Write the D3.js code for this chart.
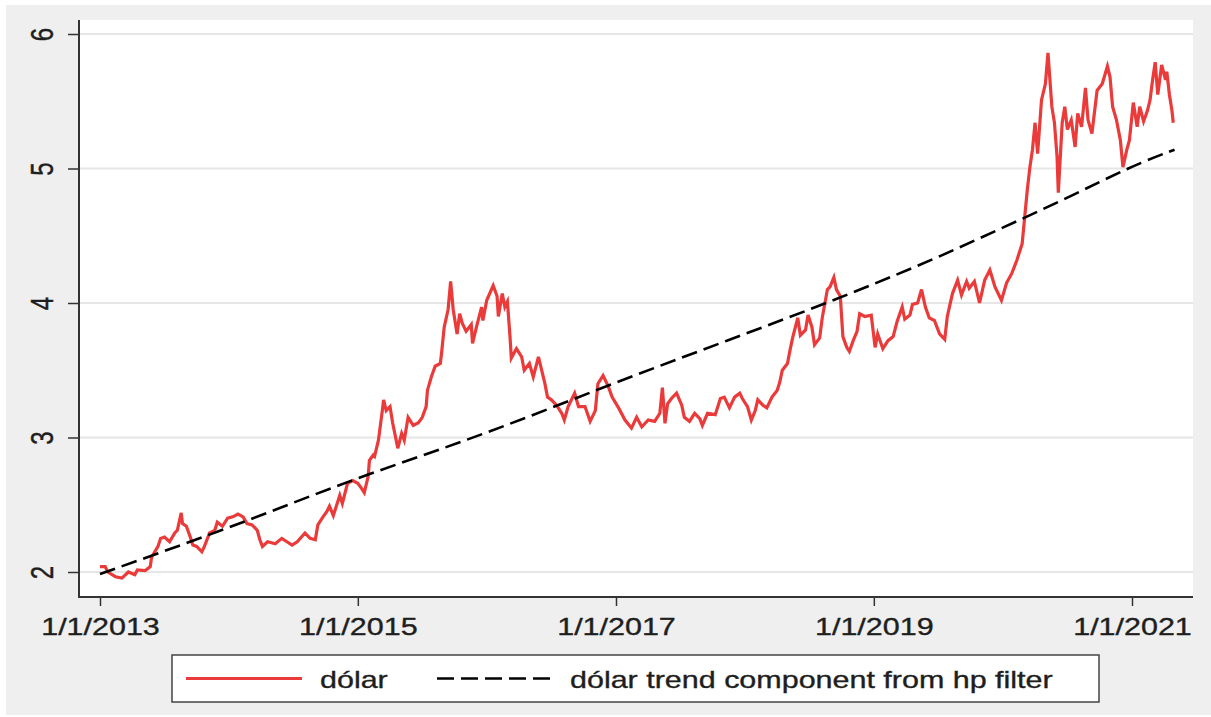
<!DOCTYPE html>
<html>
<head>
<meta charset="utf-8">
<script src="https://cdn.jsdelivr.net/npm/d3@7/dist/d3.min.js"></script>
<style>
  html, body { margin: 0; padding: 0; background: #fff; }
  svg { display: block; }
  text { font-family: "Liberation Sans", Arial, sans-serif; fill: #1e1e1e; stroke: #1e1e1e; stroke-width: 0.35px; }
</style>
</head>
<body>
<div id="chart"></div>
<script>
// dólar series, decimal year -> R$/US$
var dolarYear = [2013.00,2013.04,2013.06,2013.12,2013.17,2013.22,2013.27,2013.29,2013.35,2013.39,2013.40,2013.45,2013.47,2013.50,2013.54,2013.58,2013.60,2013.63,2013.64,2013.67,2013.70,2013.72,2013.75,2013.79,2013.81,2013.85,2013.89,2013.91,2013.95,2013.99,
  2014.03,2014.07,2014.11,2014.14,2014.18,2014.22,2014.24,2014.26,2014.30,2014.36,2014.41,2014.45,2014.49,2014.53,2014.59,2014.63,2014.67,2014.69,2014.73,2014.76,2014.78,2014.81,2014.84,2014.86,2014.88,2014.92,2014.96,
  2015.00,2015.03,2015.05,2015.08,2015.09,2015.12,2015.13,2015.16,2015.19,2015.20,2015.22,2015.25,2015.27,2015.31,2015.34,2015.36,2015.39,2015.43,2015.47,2015.50,2015.53,2015.54,2015.57,2015.60,2015.64,2015.65,2015.67,2015.70,2015.72,2015.74,2015.77,2015.79,2015.81,2015.84,2015.88,2015.89,2015.92,2015.96,2015.97,
  2016.00,2016.05,2016.08,2016.09,2016.12,2016.14,2016.16,2016.18,2016.19,2016.23,2016.27,2016.29,2016.33,2016.36,2016.40,2016.43,2016.45,2016.47,2016.50,2016.54,2016.58,2016.60,2016.63,2016.68,2016.71,2016.76,2016.80,2016.84,2016.86,2016.90,2016.94,2016.97,
  2017.02,2017.07,2017.12,2017.16,2017.20,2017.25,2017.30,2017.34,2017.36,2017.38,2017.40,2017.43,2017.47,2017.51,2017.53,2017.57,2017.61,2017.65,2017.67,2017.71,2017.77,2017.81,2017.84,2017.88,2017.92,2017.96,2017.98,
  2018.02,2018.05,2018.08,2018.10,2018.14,2018.17,2018.21,2018.25,2018.27,2018.29,2018.33,2018.35,2018.37,2018.41,2018.43,2018.47,2018.49,2018.52,2018.54,2018.58,2018.60,2018.64,2018.66,2018.69,2018.71,2018.74,2018.76,2018.79,2018.81,2018.84,2018.87,2018.89,2018.93,2018.98,
  2019.01,2019.03,2019.07,2019.11,2019.15,2019.18,2019.22,2019.24,2019.28,2019.30,2019.34,2019.37,2019.40,2019.43,2019.47,2019.51,2019.55,2019.57,2019.61,2019.65,2019.68,2019.72,2019.74,2019.78,2019.82,2019.86,2019.90,2019.94,2019.99,
  2020.03,2020.07,2020.11,2020.15,2020.17,2020.19,2020.21,2020.23,2020.25,2020.27,2020.30,2020.33,2020.35,2020.36,2020.38,2020.40,2020.42,2020.43,2020.46,2020.48,2020.50,2020.53,2020.56,2020.58,2020.61,2020.64,2020.66,2020.69,2020.73,2020.77,2020.81,2020.83,2020.85,2020.88,2020.91,2020.93,2020.96,2020.98,
  2021.01,2021.04,2021.06,2021.09,2021.12,2021.14,2021.16,2021.18,2021.20,2021.23,2021.26,2021.27,2021.29,2021.31,2021.32]
var dolarValue = [2.04,2.04,2.00,1.965,1.955,2.00,1.98,2.015,2.01,2.04,2.11,2.19,2.25,2.26,2.225,2.29,2.31,2.44,2.36,2.34,2.26,2.20,2.19,2.15,2.19,2.29,2.31,2.37,2.34,2.40,
  2.41,2.43,2.41,2.36,2.35,2.31,2.24,2.19,2.225,2.21,2.25,2.225,2.20,2.225,2.29,2.25,2.24,2.35,2.41,2.45,2.49,2.42,2.51,2.57,2.51,2.66,2.68,
  2.66,2.62,2.59,2.71,2.83,2.87,2.86,2.98,3.20,3.28,3.20,3.23,3.11,2.92,3.03,2.98,3.15,3.09,3.11,3.15,3.23,3.35,3.45,3.53,3.55,3.63,3.82,3.95,4.16,3.95,3.77,3.92,3.85,3.79,3.84,3.70,3.82,3.97,3.87,
  4.02,4.13,4.05,3.90,4.07,3.97,4.01,3.75,3.59,3.66,3.60,3.50,3.55,3.45,3.60,3.48,3.40,3.30,3.28,3.24,3.18,3.13,3.23,3.33,3.23,3.23,3.12,3.20,3.40,3.46,3.38,3.30,
  3.22,3.13,3.07,3.15,3.08,3.13,3.12,3.18,3.37,3.105,3.25,3.29,3.33,3.24,3.15,3.12,3.18,3.14,3.09,3.18,3.17,3.29,3.30,3.22,3.30,3.33,3.29,
  3.23,3.13,3.20,3.28,3.24,3.22,3.30,3.35,3.41,3.50,3.55,3.65,3.74,3.89,3.76,3.80,3.91,3.82,3.69,3.74,3.89,4.10,4.12,4.19,4.10,4.05,3.75,3.67,3.64,3.72,3.79,3.92,3.90,3.91,
  3.67,3.77,3.66,3.72,3.75,3.86,3.97,3.88,3.91,3.99,4.00,4.10,3.97,3.89,3.87,3.77,3.73,3.90,4.07,4.17,4.06,4.16,4.11,4.16,4.00,4.17,4.245,4.12,4.02,
  4.15,4.22,4.32,4.44,4.64,4.84,5.01,5.14,5.34,5.11,5.51,5.63,5.86,5.73,5.46,5.34,5.09,4.82,5.34,5.46,5.29,5.36,5.16,5.41,5.31,5.60,5.36,5.26,5.58,5.63,5.76,5.68,5.46,5.36,5.21,5.01,5.14,5.21,
  5.49,5.31,5.46,5.35,5.43,5.51,5.66,5.79,5.55,5.77,5.66,5.72,5.55,5.43,5.34]

// hp filter trend, decimal year -> value
var trendYear  = [2013.00,2013.50,2014.00,2014.50,2015.00,2015.50,2016.00,2016.50,2017.00,2017.50,2018.00,2018.50,2019.00,2019.50,2020.00,2020.50,2021.00,2021.33]
var trendValue = [1.985,2.155,2.33,2.515,2.70,2.865,3.035,3.22,3.41,3.59,3.77,3.95,4.14,4.34,4.56,4.78,5.02,5.14]

var yTicks = [2, 3, 4, 5, 6]
var xTickDates = ["2013-01-01", "2015-01-01", "2017-01-01", "2019-01-01", "2021-01-01"]
var xTickLabels = ["1/1/2013", "1/1/2015", "1/1/2017", "1/1/2019", "1/1/2021"]
var legendLabels = ["dólar", "dólar trend component from hp filter"]

var W = 1211, H = 717
var plotL = 79, plotR = 1193, plotT = 20, plotB = 597
var stretch = 1.27
var red = "#eb3a3a"

function toDate(t){
  var yr = Math.floor(t)
  var a = Date.UTC(yr, 0, 1), b = Date.UTC(yr + 1, 0, 1)
  return new Date(a + (t - yr) * (b - a))
}

var svg = d3.select("#chart").append("svg").attr("width", W).attr("height", H)

// outer frame
svg.append("rect").attr("x", 0).attr("y", 0).attr("width", W).attr("height", H).attr("fill", "#fff")
svg.append("rect").attr("x", 6).attr("y", 5).attr("width", W - 6).attr("height", H - 7).attr("fill", "#efefef")
svg.append("rect").attr("x", plotL).attr("y", plotT).attr("width", plotR - plotL).attr("height", plotB - plotT).attr("fill", "#fff")

var x = d3.scaleUtc()
  .domain([new Date(Date.UTC(2013, 0, 1)), new Date(Date.UTC(2021, 0, 1))])
  .range([100, 1132])
var y = d3.scaleLinear().domain([2, 6]).range([572, 34])

// grid
svg.append("g").selectAll("line").data(yTicks).join("line")
  .attr("x1", plotL).attr("x2", plotR)
  .attr("y1", d => y(d)).attr("y2", d => y(d))
  .attr("stroke", "#e6e6e6").attr("stroke-width", 2)

// lines
var dolar = dolarYear.map((t, i) => [toDate(t), dolarValue[i]])
var trend = trendYear.map((t, i) => [toDate(t), trendValue[i]])

svg.append("path").datum(dolar)
  .attr("fill", "none").attr("stroke", red).attr("stroke-width", 3.2)
  .attr("stroke-linejoin", "miter")
  .attr("d", d3.line().x(d => x(d[0])).y(d => y(d[1])))

svg.append("path").datum(trend)
  .attr("fill", "none").attr("stroke", "#000").attr("stroke-width", 2.6)
  .attr("stroke-dasharray", "16,7")
  .attr("d", d3.line().curve(d3.curveBasis).x(d => x(d[0])).y(d => y(d[1])))

// y axis
var yAxis = svg.append("g").attr("transform", "translate(" + plotL + ",0)")
  .call(d3.axisLeft(y).tickValues(yTicks).tickSize(11).tickSizeOuter(0).tickFormat(d3.format("d")))
yAxis.select(".domain").remove()
yAxis.selectAll(".tick line").attr("stroke", "#333").attr("stroke-width", 1.5)
yAxis.selectAll(".tick text")
  .attr("x", null).attr("dy", null)
  .attr("text-anchor", "middle")
  .attr("transform", "translate(" + (53 - plotL) + ",0) scale(" + stretch + ",1) rotate(-90)")
  .style("font-size", "24px").style("font-family", null).attr("fill", null)

// x axis
var xAxis = svg.append("g").attr("transform", "translate(0," + plotB + ")")
  .call(d3.axisBottom(x).tickValues(xTickDates.map(s => new Date(s + "T00:00:00Z")))
    .tickSize(9).tickSizeOuter(0).tickFormat((d, i) => xTickLabels[i]))
xAxis.select(".domain").remove()
xAxis.selectAll(".tick line").attr("stroke", "#333").attr("stroke-width", 1.5)
xAxis.selectAll(".tick text")
  .attr("y", null).attr("dy", null)
  .attr("text-anchor", "middle")
  .attr("transform", "translate(0,38) scale(" + stretch + ",1)")
  .style("font-size", "24px").style("font-family", null).attr("fill", null)

// axis lines
svg.append("line").attr("x1", plotL).attr("x2", plotL).attr("y1", plotT).attr("y2", plotB + 1)
  .attr("stroke", "#333").attr("stroke-width", 2)
svg.append("line").attr("x1", plotL).attr("x2", plotR).attr("y1", plotB).attr("y2", plotB)
  .attr("stroke", "#333").attr("stroke-width", 2)

// legend
var lg = svg.append("g")
lg.append("rect").attr("x", 172).attr("y", 655).attr("width", 927).attr("height", 47)
  .attr("fill", "#fff").attr("stroke", "#444").attr("stroke-width", 1.5)
lg.append("line").attr("x1", 186).attr("x2", 302).attr("y1", 678.5).attr("y2", 678.5)
  .attr("stroke", red).attr("stroke-width", 3)
lg.append("line").attr("x1", 437).attr("x2", 554).attr("y1", 678.5).attr("y2", 678.5)
  .attr("stroke", "#000").attr("stroke-width", 2.6).attr("stroke-dasharray", "17,7")
lg.selectAll("text").data(legendLabels).join("text")
  .attr("transform", (d, i) => "translate(" + (i ? 570 : 320) + ",688) scale(" + stretch + ",1)")
  .style("font-size", "24px")
  .text(d => d)
</script>
</body>
</html>
